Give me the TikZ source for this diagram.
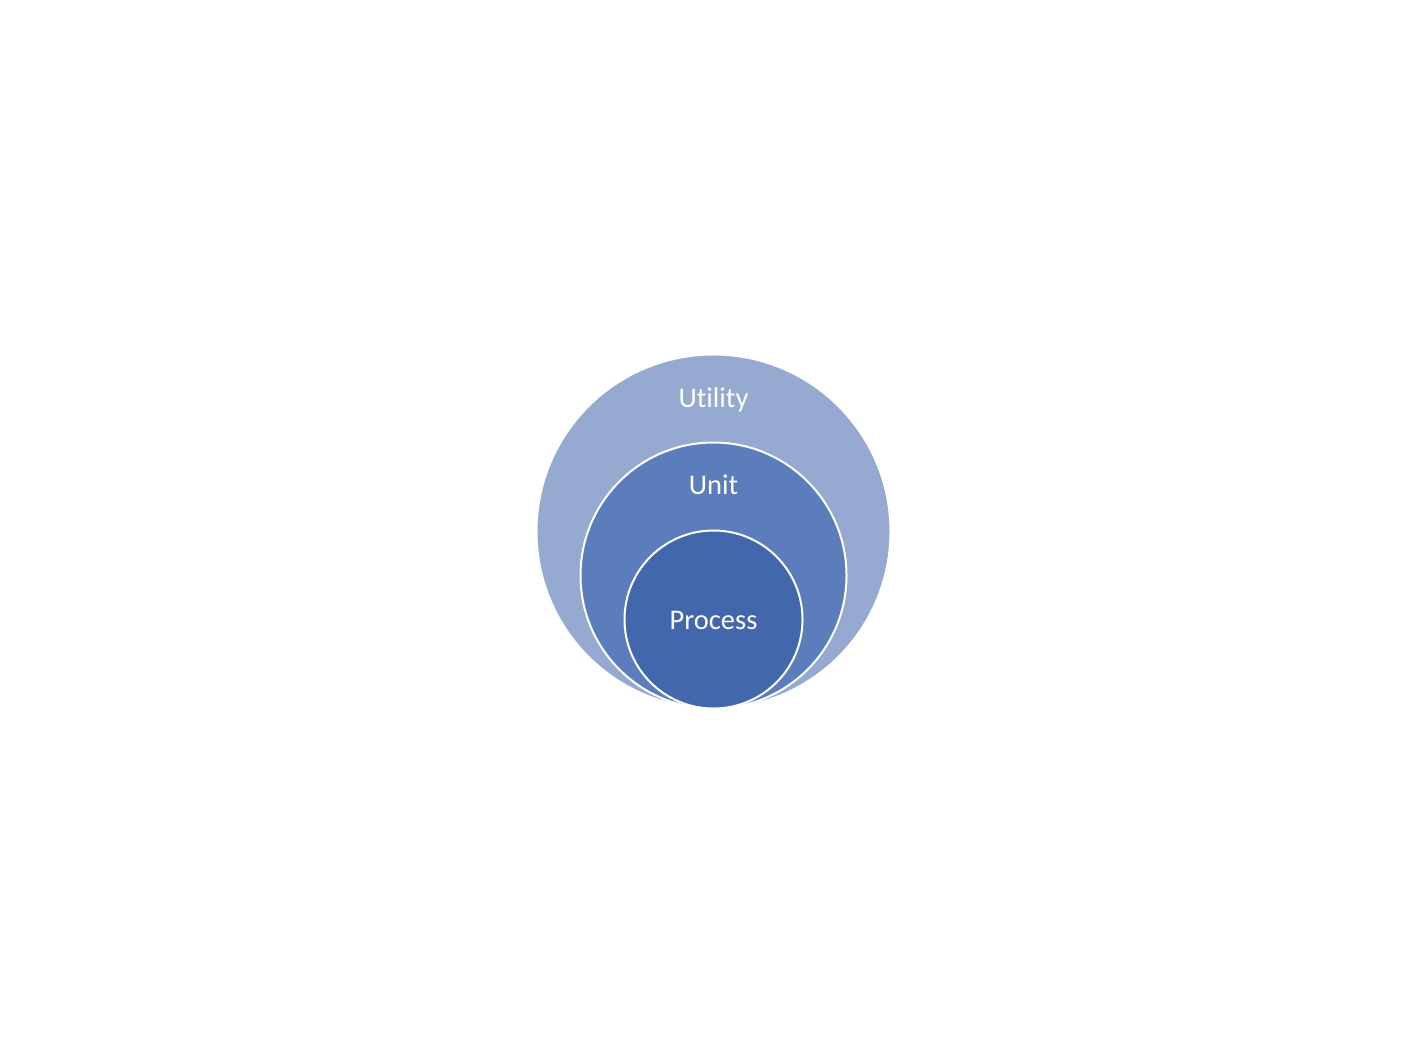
\documentclass[tikz,border=0pt]{standalone}
\usepackage{fontspec}
\setmainfont[Ligatures={NoCommon}]{Carlito}
\definecolor{outerc}{HTML}{95A9D1}
\definecolor{midc}{HTML}{5B7DBB}
\definecolor{innerc}{HTML}{4267AD}
\begin{document}
\begin{tikzpicture}[x=1pt,y=-1pt,
  ring/.style={circle,draw=white,line width=2pt,inner sep=0pt},
  lbl/.style={text=white,font=\fontsize{28.5}{32}\selectfont}]
\useasboundingbox (0,0) rectangle (1420,1063);
\node[ring,fill=outerc,minimum size=354pt] (outer) at (713.5,531.5) {};
\node[ring,fill=midc,minimum size=266pt] (mid) at (713.5,575.5) {};
\node[ring,fill=innerc,minimum size=178pt] (inner) at (713.5,619.5) {};
\node[lbl] (tutil) at (713.5,399.5) {Utility};
\node[lbl] (tunit) at (713.5,485) {Unit};
\node[lbl] (tproc) at (713.5,620) {Process};
\end{tikzpicture}
\end{document}
